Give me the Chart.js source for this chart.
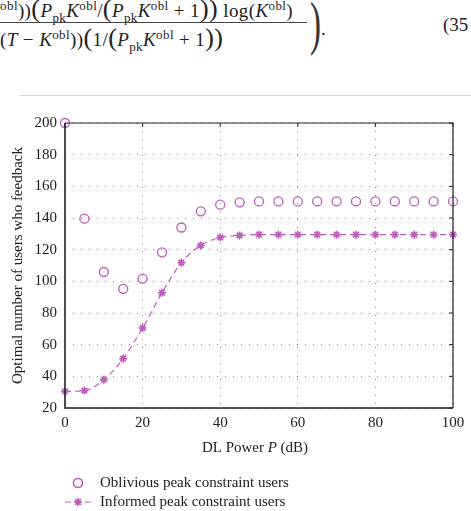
<!DOCTYPE html>
<html>
<head>
<meta charset="utf-8">
<script src="https://cdn.jsdelivr.net/npm/chart.js@4.4.0/dist/chart.umd.min.js"></script>
<style>
  html, body { margin: 0; padding: 0; background: #fff; }
  body { width: 471px; height: 511px; position: relative; overflow: hidden;
         font-family: 'Liberation Serif', serif; color: #222; }
  .eq { position: absolute; font-size: 19px; white-space: nowrap; line-height: 20px; }
  .eq sup, .eq sub { font-size: 13px; line-height: 0; }
  .big { font-size: 26px; }
  #bar { position: absolute; left: 0; top: 22px; width: 307px; height: 1px; background: #444; }
  #rule { position: absolute; left: 20px; top: 95px; width: 451px; height: 1px; background: #d4d4d4; }
  #wrap { position: absolute; left: 0; top: 100px; width: 471px; height: 411px; }
  #paren { left: 310px; top: -10px; font-size: 60px; line-height: 66px; transform: scaleX(0.55); transform-origin: left top; color: #333; }
</style>
</head>
<body>
<div class="eq" style="left:-13px; top:-1px; letter-spacing:0.4px;"><i>K</i><sup>obl</sup>))<span class="big">(</span><i>P</i><sub>pk</sub><i>K</i><sup>obl</sup>/<span class="big">(</span><i>P</i><sub>pk</sub><i>K</i><sup>obl</sup> + 1<span class="big">)</span><span class="big">)</span> log(<i>K</i><sup>obl</sup>)</div>
<div id="bar"></div>
<div class="eq" style="left:0px; top:28px; letter-spacing:0.4px;">(<i>T</i> − <i>K</i><sup>obl</sup>))<span class="big">(</span>1/<span class="big">(</span><i>P</i><sub>pk</sub><i>K</i><sup>obl</sup> + 1<span class="big">)</span><span class="big">)</span></div>
<div class="eq" id="paren">)</div>
<div class="eq" style="left:321px; top:19px;">.</div>
<div class="eq" style="left:443px; top:15px;">(35</div>
<div id="rule"></div>
<div id="wrap"><canvas id="c" width="471" height="411"></canvas></div>
<script>
// DL power (dB)
const power = [0, 5, 10, 15, 20, 25, 30, 35, 40, 45, 50, 55, 60, 65, 70, 75, 80, 85, 90, 95, 100];
// oblivious peak constraint users
const oblivious = [200, 139.6, 105.9, 95.3, 101.7, 118.3, 134, 144.2, 148.4, 149.9, 150.5, 150.5, 150.5, 150.5, 150.5, 150.5, 150.5, 150.5, 150.5, 150.5, 150.5];
// informed peak constraint users
const informed = [30.5, 31, 37.9, 51.2, 70.5, 92.8, 111.8, 122.7, 127.7, 129, 129.5, 129.5, 129.5, 129.5, 129.5, 129.5, 129.5, 129.5, 129.5, 129.5, 129.5];
const xTicks = [0, 20, 40, 60, 80, 100];
const yTicks = [20, 40, 60, 80, 100, 120, 140, 160, 180, 200];

const purple = 'rgb(188,92,188)';
const serif = 'Liberation Serif';

const frame = {
  id: 'frame',
  afterDraw(chart) {
    const ctx = chart.ctx, a = chart.chartArea;
    const xs = chart.scales.x, ys = chart.scales.y;
    ctx.save();
    ctx.strokeStyle = '#222';
    // inward ticks on top and right
    ctx.lineWidth = 1;
    ctx.beginPath();
    yTicks.forEach(v => { const y = ys.getPixelForValue(v); ctx.moveTo(a.right - 4, y); ctx.lineTo(a.right, y); });
    xTicks.forEach(v => { const x = xs.getPixelForValue(v); ctx.moveTo(x, a.top); ctx.lineTo(x, a.top + 4); });
    ctx.stroke();
    ctx.lineWidth = 1.2;
    ctx.beginPath();
    ctx.moveTo(a.left, a.top); ctx.lineTo(a.right, a.top); ctx.lineTo(a.right, a.bottom);
    ctx.stroke();
    ctx.lineWidth = 1.6;
    ctx.beginPath();
    ctx.moveTo(a.left, a.top); ctx.lineTo(a.left, a.bottom); ctx.lineTo(a.right, a.bottom);
    ctx.stroke();

    // x title with italic P
    const parts = [['DL Power ', 'normal'], ['P', 'italic'], [' (dB)', 'normal']];
    ctx.fillStyle = '#222';
    ctx.textBaseline = 'middle';
    let w = 0;
    parts.forEach(p => { ctx.font = p[1] + ' 15px "' + serif + '"'; w += ctx.measureText(p[0]).width; });
    let x = (a.left + a.right) / 2 - 4 - w / 2;
    parts.forEach(p => { ctx.font = p[1] + ' 15px "' + serif + '"'; ctx.fillText(p[0], x, 348); x += ctx.measureText(p[0]).width; });

    // legend
    ctx.font = '15px "' + serif + '"';
    chart.data.datasets.forEach((ds, i) => {
      const y = 383 + i * 19;
      if (ds.showLine !== false) {
        ctx.save();
        ctx.strokeStyle = ds.borderColor;
        ctx.lineWidth = ds.borderWidth;
        ctx.setLineDash(ds.borderDash || []);
        ctx.beginPath(); ctx.moveTo(65, y); ctx.lineTo(91, y); ctx.stroke();
        ctx.restore();
      }
      ctx.save();
      ctx.strokeStyle = ds.pointBorderColor;
      ctx.fillStyle = ds.pointBackgroundColor;
      Chart.helpers.drawPoint(ctx, { pointStyle: ds.pointStyle, radius: ds.pointRadius, borderWidth: ds.pointBorderWidth, rotation: 0 }, 78, y);
      ctx.restore();
      ctx.fillStyle = '#222';
      ctx.fillText(ds.label, 100, y);
    });
    ctx.restore();
  }
};

new Chart(document.getElementById('c'), {
  type: 'line',
  data: {
    datasets: [{
      label: 'Oblivious peak constraint users',
      data: power.map((p, i) => ({ x: p, y: oblivious[i] })),
      showLine: false,
      borderColor: purple,
      borderWidth: 1.2,
      pointStyle: 'circle',
      pointRadius: 4.5,
      pointBorderWidth: 1.3,
      pointBorderColor: purple,
      pointBackgroundColor: 'rgba(0,0,0,0)',
      clip: false
    }, {
      label: 'Informed peak constraint users',
      data: power.map((p, i) => ({ x: p, y: informed[i] })),
      borderColor: purple,
      borderWidth: 1.2,
      borderDash: [6, 4],
      cubicInterpolationMode: 'monotone',
      pointStyle: 'star',
      pointRadius: 4,
      pointBorderWidth: 1.6,
      pointBorderColor: purple,
      pointBackgroundColor: purple,
      clip: false
    }]
  },
  options: {
    responsive: false,
    animation: false,
    layout: { padding: { top: 23, right: 18, bottom: 53, left: 0 } },
    plugins: { legend: { display: false }, tooltip: { enabled: false } },
    scales: {
      x: {
        type: 'linear', min: 0, max: 100,
        afterFit: s => { s.height = 50; },
        afterBuildTicks: s => { s.ticks = xTicks.map(v => ({ value: v })); },
        grid: { color: '#8a8a8a', lineWidth: 1, drawTicks: false },
        border: { display: false, dash: [1, 7] },
        ticks: { color: '#222', font: { family: serif, size: 15 }, padding: 6, maxRotation: 0 }
      },
      y: {
        min: 20, max: 200,
        afterFit: s => { s.width = 65; },
        afterBuildTicks: s => { s.ticks = yTicks.map(v => ({ value: v })); },
        grid: { color: '#8a8a8a', lineWidth: 1, drawTicks: false },
        border: { display: false, dash: [1, 7] },
        ticks: { color: '#222', font: { family: serif, size: 15 }, padding: 8 },
        title: { display: true, text: 'Optimal number of users who feedback', color: '#222',
                 font: { family: serif, size: 15 }, padding: { top: 9, bottom: 0 } }
      }
    }
  },
  plugins: [frame]
});
</script>
</body>
</html>
